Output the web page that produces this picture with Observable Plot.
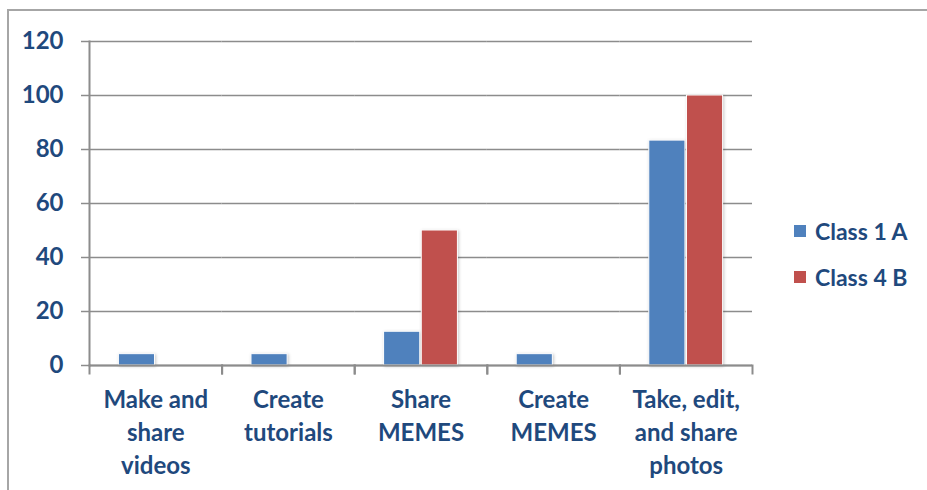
<!DOCTYPE html>
<html>
<head>
<meta charset="utf-8">
<script src="https://cdn.jsdelivr.net/npm/d3@7"></script>
<script src="https://cdn.jsdelivr.net/npm/@observablehq/plot@0.6"></script>
<style>
  html, body { margin: 0; padding: 0; background: #fff; overflow: hidden; }
  #wrap { position: relative; width: 927px; height: 490px; overflow: hidden; font-family: Lato, sans-serif; }
  #border { position: absolute; left: 7px; top: 9px; width: 2000px; height: 2000px; border-left: 2px solid #a6a6a6; border-top: 2px solid #a6a6a6; box-sizing: border-box; }
  #chart { position: absolute; left: 0; top: 0; }
  g[aria-label="bar"] rect { filter: drop-shadow(1px 1px 1.5px rgba(0,0,0,0.22)); }
  #legend { position: absolute; left: 794px; top: 217px; font: 700 23px Lato, sans-serif; color: #1F497D; }
  #legend .item { display: flex; align-items: center; height: 28px; margin-bottom: 18px; white-space: nowrap; }
  #legend .sw { width: 12px; height: 12px; margin-right: 9px; }
</style>
</head>
<body>
<div id="wrap"><div id="border"></div><div id="chart"></div><div id="legend"></div></div>
<script>
const categories = ["Make and\nshare\nvideos", "Create\ntutorials", "Share\nMEMES", "Create\nMEMES", "Take, edit,\nand share\nphotos"];
const series = ["Class 1 A", "Class 4 B"];
const class1A = [4.2, 4.2, 12.5, 4.2, 83.3];
const class4B = [0, 0, 50, 0, 100];
const yTicks = [0, 20, 40, 60, 80, 100, 120];
const colors = ["#4F81BD", "#C0504D"];

const values = [class1A, class4B];
const data = categories.flatMap((c, i) => series.map((s, j) => ({category: c, series: s, value: values[j][i]})));

const W = 927, H = 490, mL = 89, mR = 175, mT = 41, mB = 125;
const innerH = H - mT - mB;
const axisColor = "#8c8c8c";
const textColor = "#1F497D";

const chart = Plot.plot({
  width: W, height: H,
  marginLeft: mL, marginRight: mR, marginTop: mT, marginBottom: mB,
  style: {fontFamily: "Lato, sans-serif", fontWeight: 700, fontSize: "24px", background: "transparent", overflow: "visible"},
  fx: {domain: categories, padding: 0, round: false, label: null},
  x: {domain: series, paddingInner: 0.04, paddingOuter: 0.78, round: false, axis: null},
  y: {domain: [0, 120], label: null},
  color: {domain: series, range: colors},
  marks: [
    Plot.gridY(yTicks, {stroke: axisColor, strokeOpacity: 1, strokeWidth: 1.5}),
    Plot.barY(data.filter(d => d.value > 0), {fx: "category", x: "series", y: "value", fill: "series", stroke: "white", strokeWidth: 1}),
    Plot.ruleY([0], {stroke: axisColor, strokeWidth: 2}),
    Plot.frame({anchor: "left", facetAnchor: "left", stroke: axisColor, strokeWidth: 2}),
    Plot.frame({anchor: "left", insetTop: innerH, insetBottom: -8, stroke: axisColor, strokeWidth: 2}),
    Plot.frame({anchor: "right", insetTop: innerH, insetBottom: -8, stroke: axisColor, strokeWidth: 2}),
    Plot.axisY(yTicks, {tickSize: 8, tickPadding: 18, stroke: axisColor, strokeWidth: 1.5, fill: textColor, fontSize: 24, fontWeight: 700, label: null}),
    Plot.axisFx({anchor: "bottom", tickSize: 0, tickPadding: 19, lineHeight: 1.375, fill: textColor, fontSize: 24, fontWeight: 700, label: null})
  ]
});
document.getElementById("chart").appendChild(chart);

const legend = document.getElementById("legend");
series.forEach((s, i) => {
  const item = document.createElement("div");
  item.className = "item";
  const sw = document.createElement("span");
  sw.className = "sw";
  sw.style.background = colors[i];
  const label = document.createElement("span");
  label.textContent = s;
  item.appendChild(sw);
  item.appendChild(label);
  legend.appendChild(item);
});
</script>
</body>
</html>
